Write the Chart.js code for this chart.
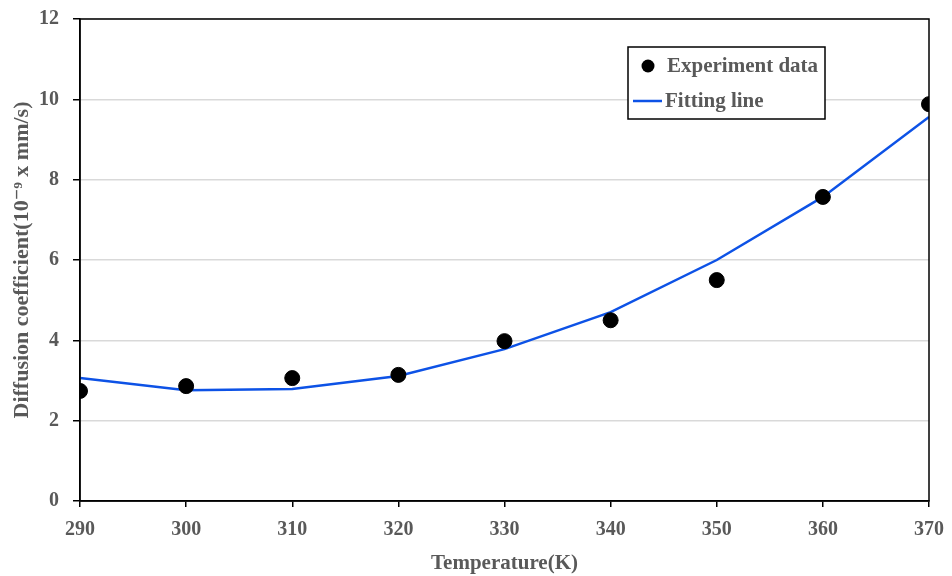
<!DOCTYPE html>
<html>
<head>
<meta charset="utf-8">
<script src="https://cdn.jsdelivr.net/npm/chart.js@4/dist/chart.umd.min.js"></script>
<style>
  html, body { margin: 0; padding: 0; background: #fff; }
  #wrap { width: 952px; height: 576px; }
</style>
</head>
<body>
<div id="wrap"><canvas id="chart"></canvas></div>
<script>
const temperatures = [290, 300, 310, 320, 330, 340, 350, 360, 370];
const experimentData = [2.74, 2.86, 3.06, 3.14, 3.98, 4.50, 5.50, 7.57, 9.88];
const fittingLine = [3.06, 2.76, 2.79, 3.11, 3.78, 4.70, 6.00, 7.57, 9.56];

const FONT = '"Liberation Serif", "DejaVu Serif", serif';
const TEXT = '#595959';

const toPoints = vals => temperatures.map((t, i) => ({ x: t, y: vals[i] }));

// caja del área de trazado (arriba y derecha también)
const frame = {
  id: 'frame',
  afterDatasetsDraw(chart) {
    const { ctx, chartArea: a } = chart;
    ctx.save();
    ctx.strokeStyle = '#000';
    ctx.lineWidth = 1.5;
    ctx.strokeRect(a.left, a.top, a.right - a.left, a.bottom - a.top);
    ctx.restore();
  }
};

// leyenda dentro del gráfico
const boxLegend = {
  id: 'boxLegend',
  afterDraw(chart) {
    const ctx = chart.ctx;
    const ds = chart.data.datasets;
    ctx.save();
    ctx.fillStyle = '#fff';
    ctx.fillRect(628, 47, 197, 72);
    ctx.strokeStyle = '#000';
    ctx.lineWidth = 1.5;
    ctx.strokeRect(628, 47, 197, 72);
    ctx.font = 'bold 21px ' + FONT;
    ctx.textBaseline = 'middle';
    ctx.fillStyle = '#000';
    ctx.beginPath();
    ctx.arc(648, 66, 6.5, 0, Math.PI * 2);
    ctx.fill();
    ctx.fillStyle = TEXT;
    ctx.fillText(ds[0].label, 667, 67);
    ctx.strokeStyle = ds[1].borderColor;
    ctx.lineWidth = 2.5;
    ctx.beginPath();
    ctx.moveTo(633, 101);
    ctx.lineTo(662, 101);
    ctx.stroke();
    ctx.fillText(ds[1].label, 665, 102);
    ctx.restore();
  }
};

new Chart(document.getElementById('chart'), {
  type: 'scatter',
  data: {
    datasets: [{
      label: 'Experiment data',
      data: toPoints(experimentData),
      backgroundColor: '#000',
      borderColor: '#000',
      pointRadius: 7.5,
      order: 1
    }, {
      label: 'Fitting line',
      type: 'line',
      data: toPoints(fittingLine),
      borderColor: '#0d52e6',
      borderWidth: 2.5,
      pointRadius: 0,
      tension: 0,
      order: 2
    }]
  },
  plugins: [frame, boxLegend],
  options: {
    responsive: true,
    maintainAspectRatio: false,
    animation: false,
    layout: { padding: { top: 19, right: 23, left: 0, bottom: 0 } },
    plugins: { legend: { display: false }, tooltip: { enabled: false } },
    scales: {
      x: {
        type: 'linear',
        min: 290, max: 370,
        afterFit: s => { s.height = 75; s.paddingLeft = 0; s.paddingRight = 0; },
        ticks: { stepSize: 10, color: TEXT, font: { family: FONT, size: 20, weight: 'bold' }, padding: 11, maxRotation: 0 },
        grid: { drawOnChartArea: false, color: '#000', tickColor: '#000', tickLength: 6, lineWidth: 1.5 },
        border: { color: '#000', width: 1.5 },
        title: { display: true, text: 'Temperature(K)', color: TEXT, font: { family: FONT, size: 21, weight: 'bold' }, padding: { top: 0, bottom: 0 } }
      },
      y: {
        min: 0, max: 12,
        afterFit: s => { s.width = 80; s.paddingTop = 0; s.paddingBottom = 0; },
        ticks: { stepSize: 2, color: TEXT, font: { family: FONT, size: 20, weight: 'bold' }, padding: 14 },
        grid: { color: '#d9d9d9', lineWidth: 1.5, tickColor: '#000', tickLength: 7 },
        border: { color: '#000', width: 1.5 },
        title: { display: true, text: 'Diffusion coefficient(10⁻⁹ x mm/s)', color: TEXT, font: { family: FONT, size: 22, weight: 'bold' }, padding: { top: 9, bottom: 0 } }
      }
    }
  }
});
</script>
</body>
</html>
